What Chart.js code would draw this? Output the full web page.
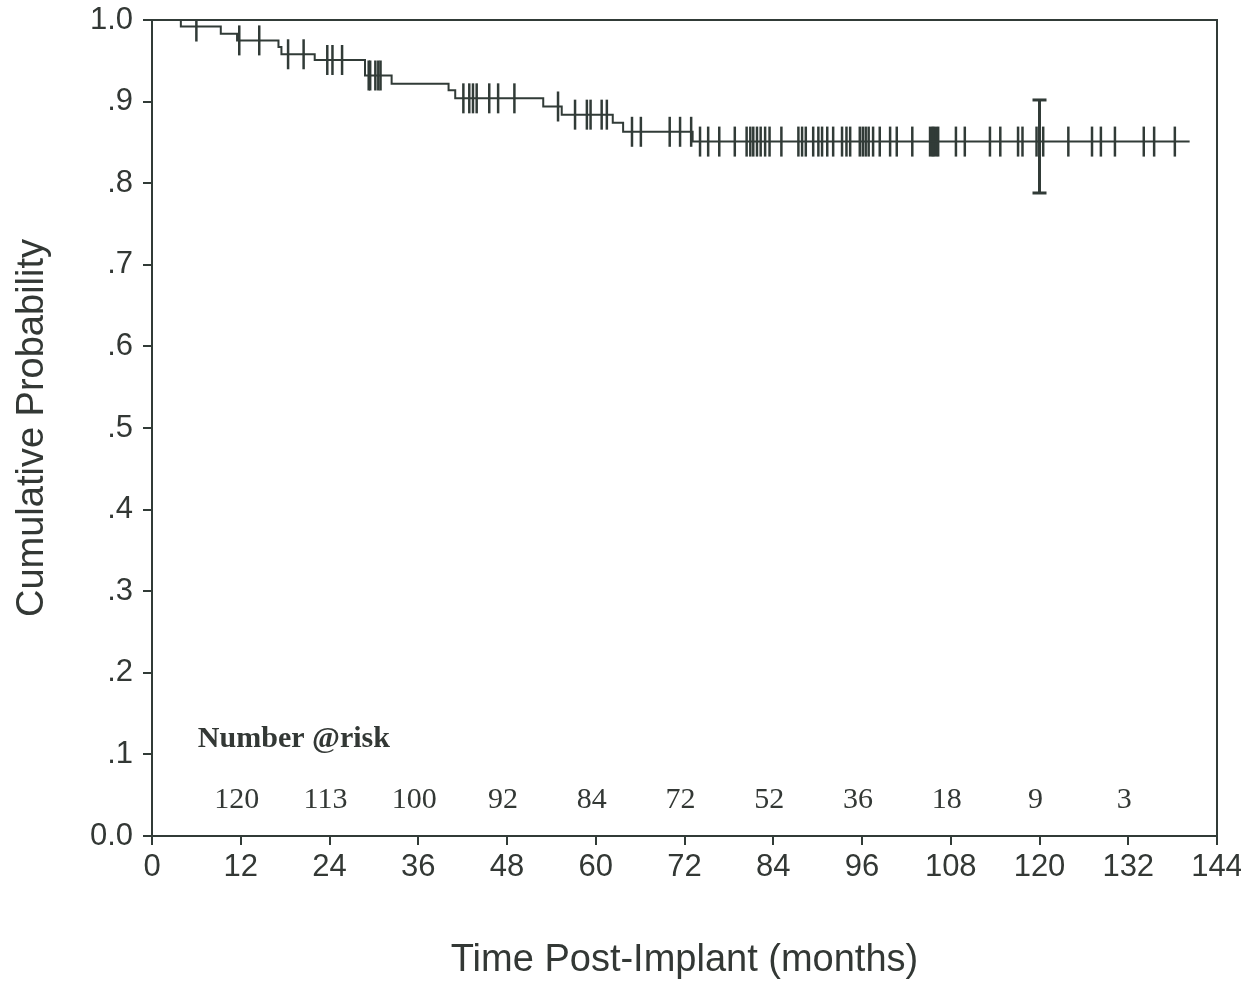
<!DOCTYPE html>
<html>
<head>
<meta charset="utf-8">
<title>Cumulative Probability</title>
<script src="https://cdn.jsdelivr.net/npm/chart.js@4.4.1/dist/chart.umd.min.js"></script>
<style>
   html, body { margin: 0; padding: 0; background: #ffffff; }
   #wrap { width: 1241px; height: 981px; }
</style>
</head>
<body>
<div id="wrap"><canvas id="kmChart" width="1241" height="981"></canvas></div>
<script>
"use strict";

// Kaplan-Meier steps: event time (months) and survival after that event
const eventTimes = [0, 3.9, 9.3, 11.5, 17.1, 17.5, 22.0, 28.8, 32.4, 40.1, 41.0, 52.9, 55.4, 62.3, 63.7, 73.1];
const survival = [1.0, 0.992, 0.983, 0.975, 0.967, 0.958, 0.951, 0.932, 0.922, 0.914, 0.904, 0.894, 0.884, 0.874, 0.863, 0.851];
const lastFollowUp = 140.3;

// censored patients (months)
const censorTimes = [
   6.0, 11.8, 14.5, 18.4, 20.5, 23.7, 24.4, 25.7, 29.3, 29.5, 30.2, 30.6, 30.9,
   42.1, 42.9, 43.4, 43.9, 45.6, 46.8, 49.0, 54.9, 57.2, 58.8, 59.3, 60.8, 61.5,
   64.9, 66.1, 70.0, 71.4, 72.9, 74.1, 75.2, 76.7, 78.8, 80.4, 80.9, 81.3, 81.8,
   82.3, 82.9, 83.5, 85.1, 87.4, 87.9, 88.4, 89.4, 90.1, 90.6, 91.3, 92.1, 93.3,
   93.9, 94.4, 95.7, 96.1, 96.5, 96.9, 97.5, 98.4, 99.8, 100.7, 102.8, 105.2,
   105.5, 105.7, 106.0, 106.3, 108.7, 109.9, 113.3, 114.7, 117.1, 117.7, 119.6,
   120.5, 123.9, 127.1, 128.3, 130.2, 134.1, 135.5, 138.3
];

// 95% confidence interval shown at 120 months
const ciTime = [120, 120];
const ciBounds = [0.788, 0.902];

// number at risk table
const riskTimes = [12, 24, 36, 48, 60, 72, 84, 96, 108, 120, 132];
const riskCounts = [120, 113, 100, 92, 84, 72, 52, 36, 18, 9, 3];

const yTickLabels = ["0.0", ".1", ".2", ".3", ".4", ".5", ".6", ".7", ".8", ".9", "1.0"];

const lineColor = "#313b37";
const textColor = "#333835";

function survivalAt(t) {
   let s = survival[0];
   for (let i = 0; i < eventTimes.length; i++) {
      if (eventTimes[i] <= t) s = survival[i];
   }
   return s;
}

let curve = eventTimes.map((t, i) => ({ x: t, y: survival[i] }));
curve.push({ x: lastFollowUp, y: survival[survival.length - 1] });

let censored = censorTimes.map((t) => ({ x: t, y: survivalAt(t) }));
let ciLine = ciTime.map((t, i) => ({ x: t, y: ciBounds[i] }));

// top/right frame and the number-at-risk rows
const framePlugin = {
   id: "frame",
   afterDraw(chart) {
      const { ctx, chartArea: a, scales } = chart;
      ctx.save();
      ctx.strokeStyle = lineColor;
      ctx.lineWidth = 2;
      ctx.beginPath();
      ctx.moveTo(a.left, a.top);
      ctx.lineTo(a.right, a.top);
      ctx.lineTo(a.right, a.bottom);
      ctx.stroke();

      ctx.fillStyle = textColor;
      ctx.textBaseline = "middle";
      ctx.textAlign = "left";
      ctx.font = "bold 30px 'Liberation Serif'";
      ctx.fillText("Number @risk", scales.x.getPixelForValue(6.2), scales.y.getPixelForValue(0.118));

      ctx.textAlign = "center";
      ctx.font = "30px 'Liberation Serif'";
      const rowY = scales.y.getPixelForValue(0.044);
      for (let i = 0; i < riskTimes.length; i++) {
         ctx.fillText(String(riskCounts[i]), scales.x.getPixelForValue(riskTimes[i]) - 4, rowY);
      }
      ctx.restore();
   },
};

const ctx = document.getElementById("kmChart").getContext("2d");
const kmChart = new Chart(ctx, {
   type: "line",
   data: {
      datasets: [
         {
            label: "survival",
            data: curve,
            stepped: true,
            borderColor: lineColor,
            borderWidth: 2,
            pointRadius: 0,
            fill: false,
         },
         {
            label: "censored",
            data: censored,
            showLine: false,
            pointStyle: "line",
            rotation: 90,
            pointRadius: 15,
            pointBorderWidth: 2.5,
            borderColor: lineColor,
            pointBorderColor: lineColor,
         },
         {
            label: "ci",
            data: ciLine,
            showLine: true,
            borderColor: lineColor,
            borderWidth: 3,
            pointStyle: "line",
            rotation: 0,
            pointRadius: 7,
            pointBorderWidth: 3,
            pointBorderColor: lineColor,
         },
      ],
   },
   options: {
      responsive: false,
      devicePixelRatio: 1,
      animation: false,
      layout: { padding: { top: 20, right: 24, left: 0, bottom: 0 } },
      plugins: {
         legend: { display: false },
         tooltip: { enabled: false },
      },
      scales: {
         x: {
            type: "linear",
            min: 0,
            max: 144,
            afterFit(scale) {
               scale.height = 145;
               // let the last label hang past the frame
               scale.paddingLeft = 0;
               scale.paddingRight = 0;
            },
            ticks: {
               stepSize: 12,
               maxRotation: 0,
               padding: 4,
               color: textColor,
               font: { family: "'Liberation Sans', Arial, sans-serif", size: 31 },
            },
            grid: {
               drawOnChartArea: false,
               drawTicks: true,
               tickLength: 9,
               color: lineColor,
               lineWidth: 2,
            },
            border: { display: true, color: lineColor, width: 2 },
            title: {
               display: true,
               text: "Time Post-Implant (months)",
               color: textColor,
               padding: { top: 0, bottom: -2 },
               font: { family: "'Liberation Sans', Arial, sans-serif", size: 38 },
            },
         },
         y: {
            type: "linear",
            min: 0,
            max: 1,
            afterFit(scale) {
               scale.width = 152;
               scale.paddingTop = 0;
               scale.paddingBottom = 0;
            },
            ticks: {
               stepSize: 0.1,
               padding: 10,
               color: textColor,
               font: { family: "'Liberation Sans', Arial, sans-serif", size: 31 },
               callback: (value, index) => yTickLabels[index],
            },
            grid: {
               drawOnChartArea: false,
               drawTicks: true,
               tickLength: 9,
               color: lineColor,
               lineWidth: 2,
            },
            border: { display: true, color: lineColor, width: 2 },
            title: {
               display: true,
               text: "Cumulative Probability",
               color: textColor,
               padding: { top: 10, bottom: 0 },
               font: { family: "'Liberation Sans', Arial, sans-serif", size: 38 },
            },
         },
      },
   },
   plugins: [framePlugin],
});
</script>
</body>
</html>
